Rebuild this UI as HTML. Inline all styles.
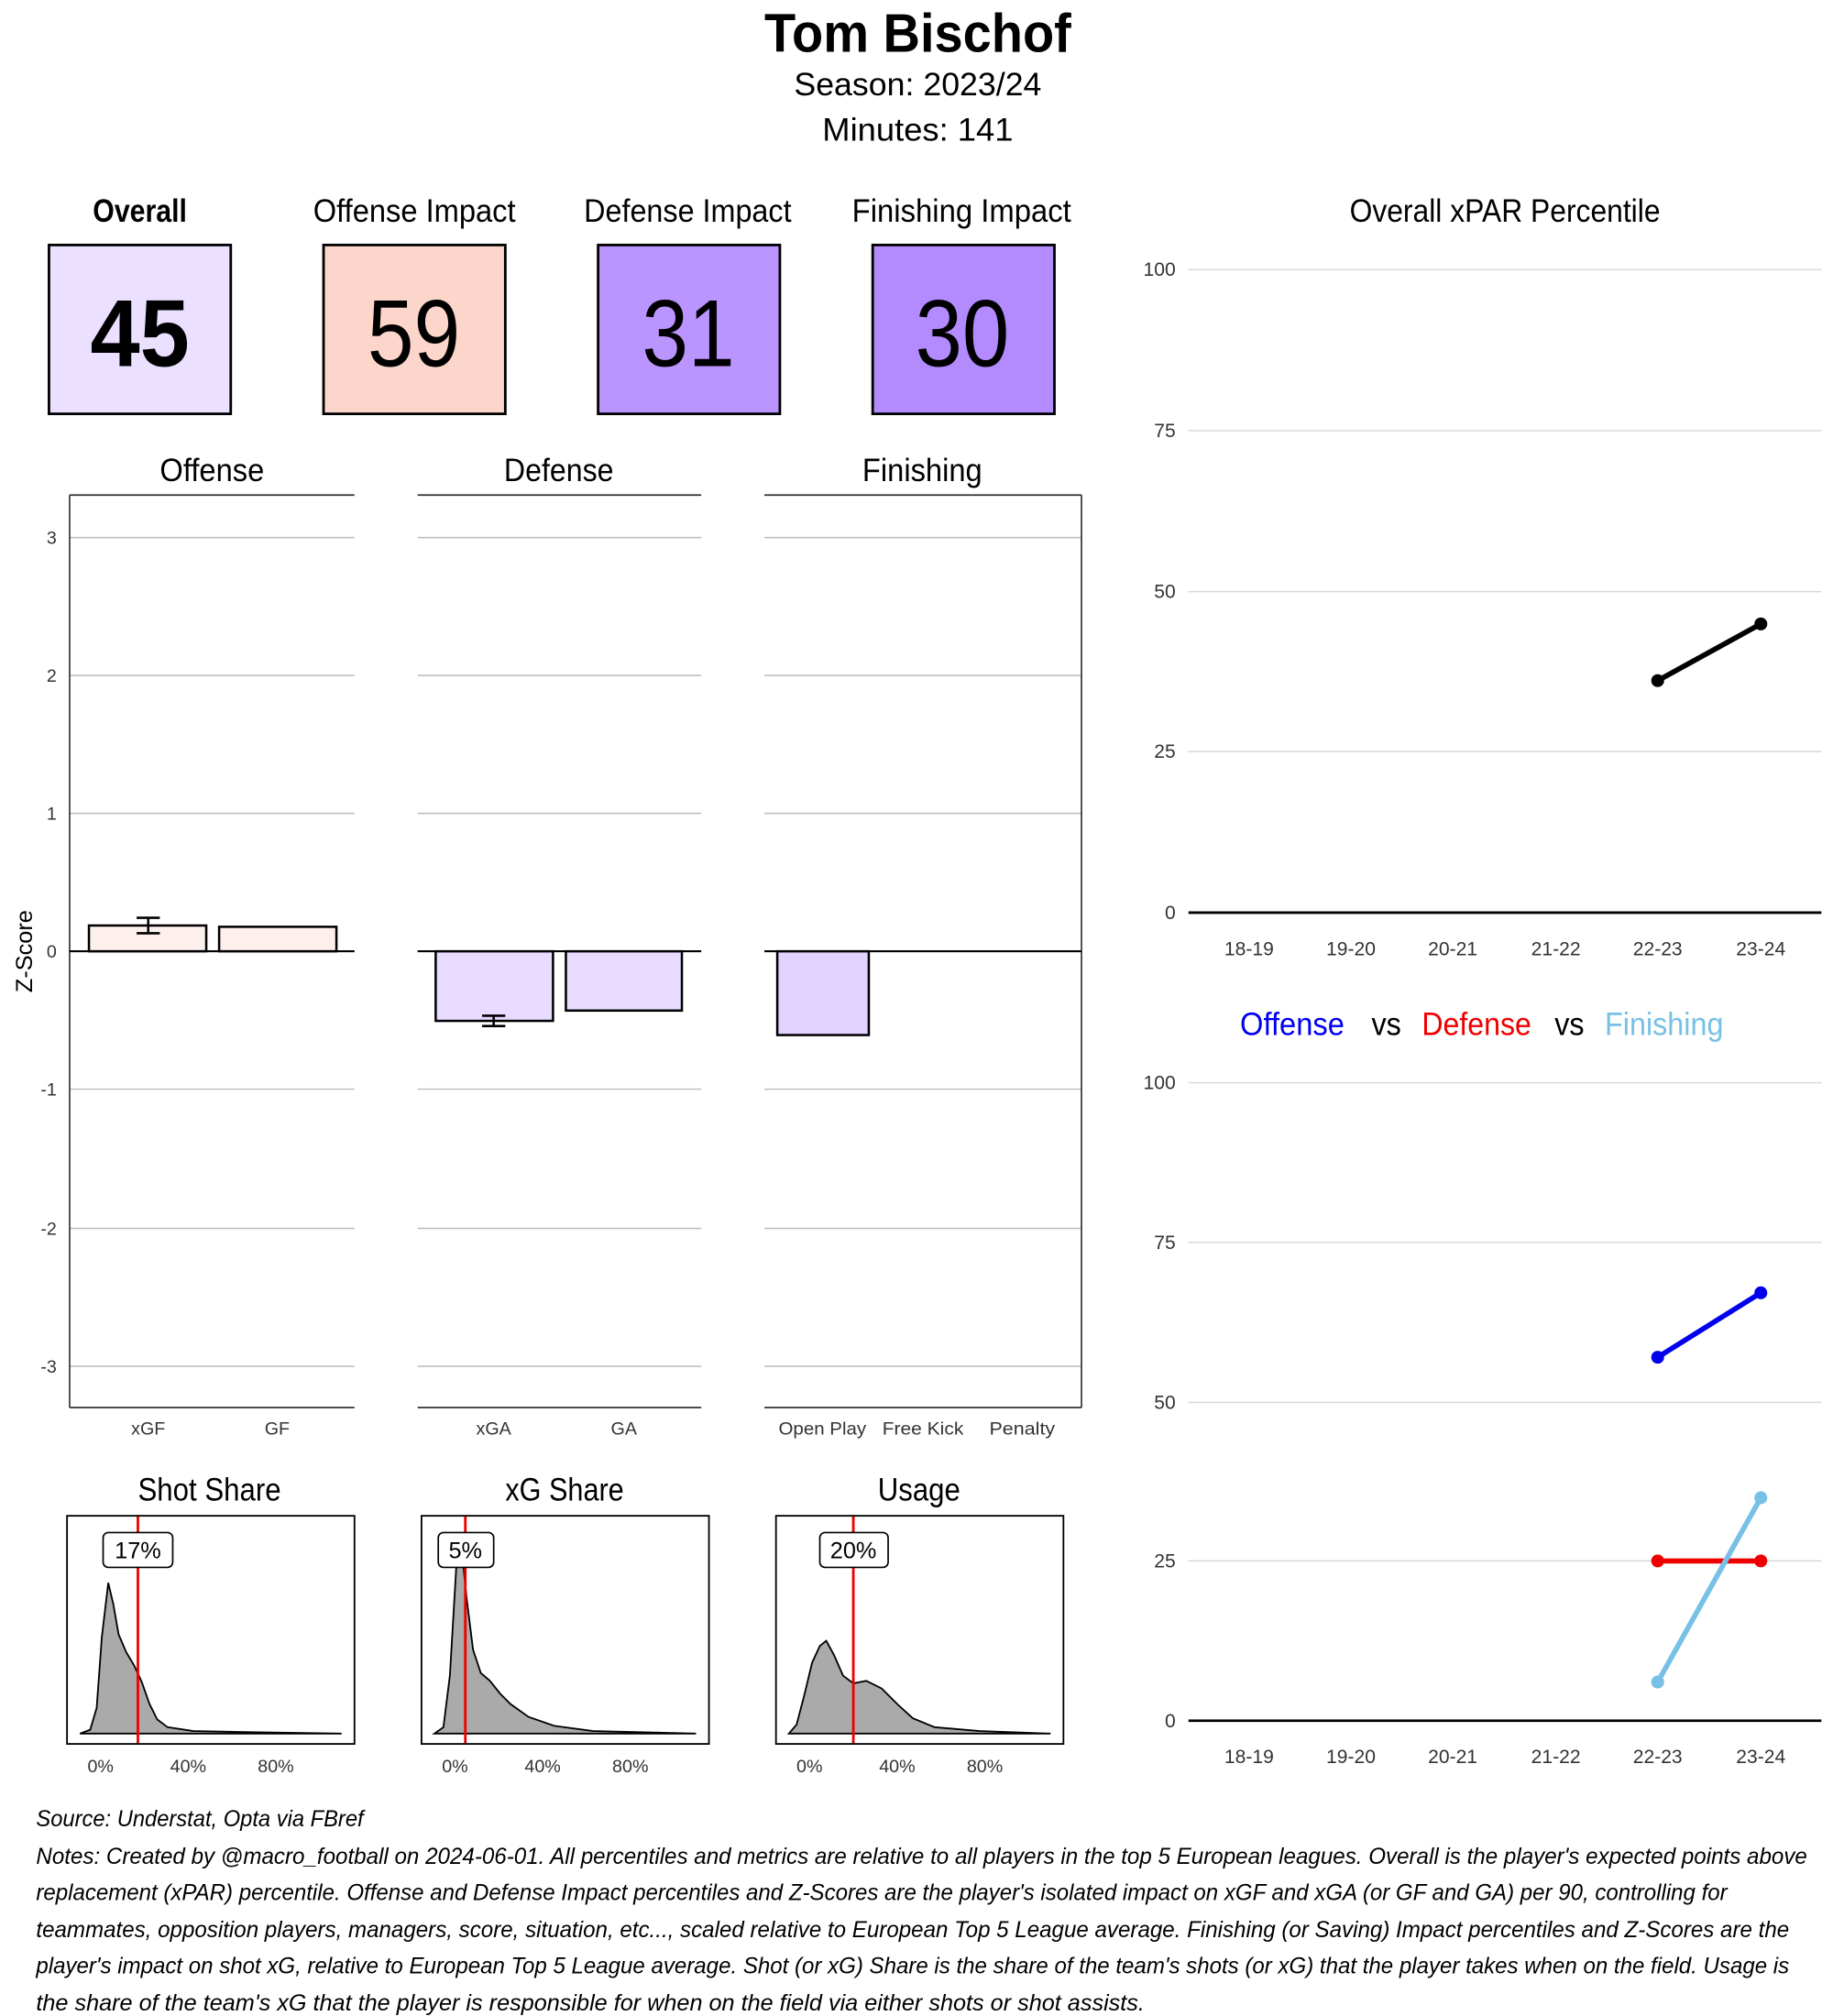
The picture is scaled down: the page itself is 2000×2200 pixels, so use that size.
<!DOCTYPE html>
<html><head><meta charset="utf-8"><style>
html,body{margin:0;padding:0;background:#fff;}
svg{display:block;}
text{font-family:"Liberation Sans",sans-serif;}
</style></head><body>
<svg width="2000" height="2200" viewBox="0 0 1422 1564" xmlns="http://www.w3.org/2000/svg">
<rect width="1422" height="1564" fill="#fff"/>
<!-- Title -->
<text x="593" y="40" font-size="42" font-weight="bold" textLength="238" lengthAdjust="spacingAndGlyphs">Tom Bischof</text>
<text x="616" y="74" font-size="25" textLength="192" lengthAdjust="spacingAndGlyphs">Season:  2023/24</text>
<text x="638" y="109" font-size="25" textLength="148" lengthAdjust="spacingAndGlyphs">Minutes:  141</text>
<!-- Headers -->
<g font-size="25">
<text x="72" y="172" font-weight="bold" textLength="73" lengthAdjust="spacingAndGlyphs">Overall</text>
<text x="243" y="172" textLength="157" lengthAdjust="spacingAndGlyphs">Offense Impact</text>
<text x="453" y="172" textLength="161" lengthAdjust="spacingAndGlyphs">Defense Impact</text>
<text x="661" y="172" textLength="170" lengthAdjust="spacingAndGlyphs">Finishing Impact</text>
</g>
<g stroke="#000" stroke-width="2">
<rect x="38" y="190" width="141" height="131" fill="#ebe0ff"/>
<rect x="251" y="190" width="141" height="131" fill="#fcd6cb"/>
<rect x="464" y="190" width="141" height="131" fill="#bb95ff"/>
<rect x="677" y="190" width="141" height="131" fill="#b48bff"/>
</g>
<g font-size="74">
<text x="70" y="284" font-weight="bold" textLength="77" lengthAdjust="spacingAndGlyphs">45</text>
<text x="285" y="284" textLength="72" lengthAdjust="spacingAndGlyphs">59</text>
<text x="498" y="284" textLength="72" lengthAdjust="spacingAndGlyphs">31</text>
<text x="710" y="284" textLength="73" lengthAdjust="spacingAndGlyphs">30</text>
</g>
<!-- Facet panels -->
<g font-size="25">
<text x="124" y="373" textLength="81" lengthAdjust="spacingAndGlyphs">Offense</text>
<text x="391" y="373" textLength="85" lengthAdjust="spacingAndGlyphs">Defense</text>
<text x="669" y="373" textLength="93" lengthAdjust="spacingAndGlyphs">Finishing</text>
</g>
<g stroke="#bbb" stroke-width="1">
<line x1="54" x2="275" y1="417" y2="417"/><line x1="54" x2="275" y1="524" y2="524"/><line x1="54" x2="275" y1="631" y2="631"/><line x1="54" x2="275" y1="845" y2="845"/><line x1="54" x2="275" y1="953" y2="953"/><line x1="54" x2="275" y1="1060" y2="1060"/>
<line x1="324" x2="544" y1="417" y2="417"/><line x1="324" x2="544" y1="524" y2="524"/><line x1="324" x2="544" y1="631" y2="631"/><line x1="324" x2="544" y1="845" y2="845"/><line x1="324" x2="544" y1="953" y2="953"/><line x1="324" x2="544" y1="1060" y2="1060"/>
<line x1="593" x2="839" y1="417" y2="417"/><line x1="593" x2="839" y1="524" y2="524"/><line x1="593" x2="839" y1="631" y2="631"/><line x1="593" x2="839" y1="845" y2="845"/><line x1="593" x2="839" y1="953" y2="953"/><line x1="593" x2="839" y1="1060" y2="1060"/>
</g>
<g stroke="#333" stroke-width="1.2" fill="none">
<line x1="54" x2="275" y1="384" y2="384"/><line x1="54" x2="275" y1="1092" y2="1092"/><line x1="54" x2="54" y1="384" y2="1092"/>
<line x1="324" x2="544" y1="384" y2="384"/><line x1="324" x2="544" y1="1092" y2="1092"/>
<line x1="593" x2="839" y1="384" y2="384"/><line x1="593" x2="839" y1="1092" y2="1092"/><line x1="839" x2="839" y1="384" y2="1092"/>
</g>
<g stroke="#000" stroke-width="1.5">
<line x1="54" x2="275" y1="738" y2="738"/><line x1="324" x2="544" y1="738" y2="738"/><line x1="593" x2="839" y1="738" y2="738"/>
</g>
<g stroke="#000" stroke-width="1.8">
<rect x="69" y="718" width="91" height="20" fill="#fdf0ec"/>
<rect x="170" y="719" width="91" height="19" fill="#fdf0ec"/>
<rect x="338" y="738" width="91" height="54" fill="#e8dbff"/>
<rect x="439" y="738" width="90" height="46" fill="#e8dbff"/>
<rect x="603" y="738" width="71" height="65" fill="#e1d2ff"/>
<path d="M106 712H124M115 712V724M106 724H124" fill="none"/>
<path d="M374 788H392M383 788V796M374 796H392" fill="none"/>
</g>
<g font-size="14" text-anchor="end" fill="#333">
<text x="44" y="422">3</text><text x="44" y="529">2</text><text x="44" y="636">1</text><text x="44" y="743">0</text><text x="44" y="850">-1</text><text x="44" y="958">-2</text><text x="44" y="1065">-3</text>
</g>
<text transform="translate(25,738) rotate(-90)" text-anchor="middle" font-size="18">Z-Score</text>
<g font-size="14" text-anchor="middle" fill="#333">
<text x="115" y="1113">xGF</text><text x="215" y="1113">GF</text><text x="383" y="1113">xGA</text><text x="484" y="1113">GA</text>
<text x="638" y="1113" textLength="68" lengthAdjust="spacingAndGlyphs">Open Play</text><text x="716" y="1113" textLength="63" lengthAdjust="spacingAndGlyphs">Free Kick</text><text x="793" y="1113" textLength="51" lengthAdjust="spacingAndGlyphs">Penalty</text>
</g>
<!-- Density panels -->
<g font-size="25">
<text x="107" y="1164" textLength="111" lengthAdjust="spacingAndGlyphs">Shot Share</text><text x="392" y="1164" textLength="92" lengthAdjust="spacingAndGlyphs">xG Share</text><text x="681" y="1164" textLength="64" lengthAdjust="spacingAndGlyphs">Usage</text>
</g>
<g stroke="#000" stroke-width="1.3" fill="#aaa">
<path d="M62 1345 L70 1342 L75 1325 L79 1270 L84 1228 L88 1245 L92 1268 L98 1282 L104 1292 L110 1305 L116 1322 L122 1334 L130 1340 L150 1343 L200 1344 L265 1345 Z"/>
<path d="M337 1345 L344 1340 L349 1300 L354 1215 L358 1200 L362 1240 L367 1280 L373 1298 L380 1304 L388 1314 L396 1322 L410 1332 L430 1339 L460 1343 L540 1345 Z"/>
<path d="M612 1345 L618 1338 L624 1315 L630 1290 L636 1277 L641 1273 L647 1284 L654 1300 L662 1306 L672 1304 L684 1310 L696 1322 L708 1333 L725 1340 L760 1343 L815 1345 Z"/>
</g>
<g stroke="#e00" stroke-width="2">
<line x1="107" x2="107" y1="1176" y2="1353"/><line x1="361" x2="361" y1="1176" y2="1353"/><line x1="662" x2="662" y1="1176" y2="1353"/>
</g>
<g stroke="#000" stroke-width="1.3" fill="none">
<rect x="52" y="1176" width="223" height="177"/><rect x="327" y="1176" width="223" height="177"/><rect x="602" y="1176" width="223" height="177"/>
</g>
<g stroke="#000" stroke-width="1.2" fill="#fff">
<rect x="80" y="1189" width="54" height="27" rx="4"/><rect x="340" y="1189" width="43" height="27" rx="4"/><rect x="636" y="1189" width="53" height="27" rx="4"/>
</g>
<g font-size="18" text-anchor="middle">
<text x="107" y="1209">17%</text><text x="361" y="1209">5%</text><text x="662" y="1209">20%</text>
</g>
<g font-size="14" text-anchor="middle" fill="#333">
<text x="78" y="1375">0%</text><text x="146" y="1375">40%</text><text x="214" y="1375">80%</text>
<text x="353" y="1375">0%</text><text x="421" y="1375">40%</text><text x="489" y="1375">80%</text>
<text x="628" y="1375">0%</text><text x="696" y="1375">40%</text><text x="764" y="1375">80%</text>
</g>
<!-- Right top chart -->
<text x="1047" y="172" font-size="25" textLength="241" lengthAdjust="spacingAndGlyphs">Overall xPAR Percentile</text>
<g stroke="#d6d6d6" stroke-width="1">
<line x1="922" x2="1413" y1="209" y2="209"/><line x1="922" x2="1413" y1="334" y2="334"/><line x1="922" x2="1413" y1="459" y2="459"/><line x1="922" x2="1413" y1="583" y2="583"/>
<line x1="922" x2="1413" y1="840" y2="840"/><line x1="922" x2="1413" y1="964" y2="964"/><line x1="922" x2="1413" y1="1088" y2="1088"/><line x1="922" x2="1413" y1="1211" y2="1211"/>
</g>
<g stroke="#000" stroke-width="2">
<line x1="922" x2="1413" y1="708" y2="708"/><line x1="922" x2="1413" y1="1335" y2="1335"/>
</g>
<g font-size="15" text-anchor="end" fill="#333">
<text x="912" y="214">100</text><text x="912" y="339">75</text><text x="912" y="464">50</text><text x="912" y="588">25</text><text x="912" y="713">0</text>
<text x="912" y="845">100</text><text x="912" y="969">75</text><text x="912" y="1093">50</text><text x="912" y="1216">25</text><text x="912" y="1340">0</text>
</g>
<g font-size="15" text-anchor="middle" fill="#333">
<text x="969" y="741">18-19</text><text x="1048" y="741">19-20</text><text x="1127" y="741">20-21</text><text x="1207" y="741">21-22</text><text x="1286" y="741">22-23</text><text x="1366" y="741">23-24</text>
<text x="969" y="1368">18-19</text><text x="1048" y="1368">19-20</text><text x="1127" y="1368">20-21</text><text x="1207" y="1368">21-22</text><text x="1286" y="1368">22-23</text><text x="1366" y="1368">23-24</text>
</g>
<line x1="1286" y1="528" x2="1366" y2="484" stroke="#000" stroke-width="4"/>
<circle cx="1286" cy="528" r="5"/><circle cx="1366" cy="484" r="5"/>
<g font-size="25">
<text x="962" y="803" fill="#0000ee" textLength="81" lengthAdjust="spacingAndGlyphs">Offense</text><text x="1064" y="803" textLength="23" lengthAdjust="spacingAndGlyphs">vs</text><text x="1103" y="803" fill="#ee0000" textLength="85" lengthAdjust="spacingAndGlyphs">Defense</text><text x="1206" y="803" textLength="23" lengthAdjust="spacingAndGlyphs">vs</text><text x="1245" y="803" fill="#77c0e6" textLength="92" lengthAdjust="spacingAndGlyphs">Finishing</text>
</g>
<line x1="1286" y1="1053" x2="1366" y2="1003" stroke="#0000ee" stroke-width="4"/>
<circle cx="1286" cy="1053" r="5" fill="#0000ee"/><circle cx="1366" cy="1003" r="5" fill="#0000ee"/>
<line x1="1286" y1="1211" x2="1366" y2="1211" stroke="#ee0000" stroke-width="4"/>
<circle cx="1286" cy="1211" r="5" fill="#ee0000"/><circle cx="1366" cy="1211" r="5" fill="#ee0000"/>
<line x1="1286" y1="1305" x2="1366" y2="1162" stroke="#77c0e6" stroke-width="4"/>
<circle cx="1286" cy="1305" r="5" fill="#77c0e6"/><circle cx="1366" cy="1162" r="5" fill="#77c0e6"/>
<!-- Notes -->
<g font-size="18" font-style="italic">
<text x="28" y="1417" textLength="254" lengthAdjust="spacingAndGlyphs">Source: Understat, Opta via FBref</text>
<text x="28" y="1446" textLength="1374" lengthAdjust="spacingAndGlyphs">Notes: Created by @macro_football on 2024-06-01. All percentiles and metrics are relative to all players in the top 5 European leagues. Overall is the player's expected points above</text>
<text x="28" y="1474" textLength="1312" lengthAdjust="spacingAndGlyphs">replacement (xPAR) percentile. Offense and Defense Impact percentiles and Z-Scores are the player's isolated impact on xGF and xGA (or GF and GA) per 90, controlling for</text>
<text x="28" y="1503" textLength="1360" lengthAdjust="spacingAndGlyphs">teammates, opposition players, managers, score, situation, etc..., scaled relative to European Top 5 League average. Finishing (or Saving) Impact percentiles and Z-Scores are the</text>
<text x="28" y="1531" textLength="1360" lengthAdjust="spacingAndGlyphs">player's impact on shot xG, relative to European Top 5 League average. Shot (or xG) Share is the share of the team's shots (or xG) that the player takes when on the field. Usage is</text>
<text x="28" y="1560" textLength="860" lengthAdjust="spacingAndGlyphs">the share of the team's xG that the player is responsible for when on the field via either shots or shot assists.</text>
</g>
</svg>
</body></html>
